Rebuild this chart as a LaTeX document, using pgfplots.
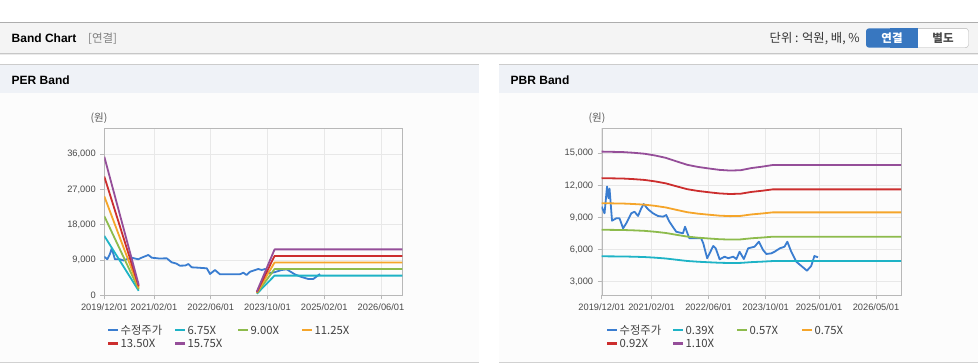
\documentclass[border=0pt]{standalone}
\usepackage{pgfplots}
\pgfplotsset{compat=1.18}
\usepackage{fontspec}
\setmainfont{Liberation Sans}
\newfontfamily\kr{Noto Sans CJK KR}
\definecolor{cPrice}{HTML}{3A7DD0}
\definecolor{cA}{HTML}{1EB3C6}
\definecolor{cB}{HTML}{8DBB4C}
\definecolor{cC}{HTML}{F5A52A}
\definecolor{cD}{HTML}{CC2E2E}
\definecolor{cE}{HTML}{954E99}
\definecolor{gridc}{HTML}{E8E8E8}
\definecolor{axc}{HTML}{B8B8B8}
\definecolor{tickc}{HTML}{4A4A4A}
\definecolor{hdr}{HTML}{F4F4F4}
\definecolor{phdr}{HTML}{EFF2F7}
\definecolor{btn}{HTML}{3877C0}

\pgfplotsset{band/.style={
  scale only axis, anchor=south west,
  xmin=0, xmax=84,
  axis line style={axc},
  grid=major, major grid style={gridc, line width=0.8pt},
  tick align=outside, major tick length=4pt, tick style={axc, line width=0.8pt},
  xtick pos=left, ytick pos=left,
  scaled y ticks=false,
  ticklabel style={font=\fontsize{9.3}{10}\selectfont, text=tickc},
  xticklabel style={yshift=-1pt},
  yticklabel style={xshift=-1pt},
  every axis plot/.append style={line width=1.8pt, line join=round, no markers},
  unbounded coords=jump,
  /pgf/number format/1000 sep={,},
  /pgf/number format/assume math mode=true,
}}

\begin{document}
\begin{tikzpicture}
\useasboundingbox (0,0) rectangle (978pt,-364pt);
\begin{scope}[x=1pt,y=-1pt]
\fill[white] (0,0) rectangle (978,364);
% top header bar
\fill[hdr] (0,22.5) rectangle (978,53);
\fill[black!8] (0,53) rectangle (978,55);
\draw[black!32,line width=1pt] (0,22.5) -- (978,22.5);
\draw[black!22,line width=1pt] (0,53) -- (978,53);
\node[anchor=west,inner sep=0,font=\bfseries\fontsize{12}{14}\selectfont] at (11.5,38.3) {Band Chart};
\node[anchor=west,inner sep=0,text=black!50,font=\kr\fontsize{11.5}{14}\selectfont] at (88,38.3) {[연결]};
\node[anchor=east,inner sep=0,text=black!80,font=\kr\fontsize{12.3}{14}\selectfont] at (860,38.3) {단위 : 억원, 배, \%};
\draw[black!30,fill=white,rounded corners=3pt] (900,28.3) rectangle (968.5,47.7);
\fill[btn,rounded corners=3pt] (866,28.3) rectangle (905,47.7);
\fill[btn] (890,28.3) rectangle (917.7,47.7);
\node[inner sep=0,text=white,font=\kr\bfseries\fontsize{11.5}{14}\selectfont] at (892,38.3) {연결};
\node[inner sep=0,text=black!70,font=\kr\bfseries\fontsize{11.5}{14}\selectfont] at (943,38.3) {별도};
% panels
\foreach \xa/\xb/\tt in {0/479/PER Band, 499/978/PBR Band}{
  \fill[phdr] (\xa,64) rectangle (\xb,92.7);
  \draw[black!20,line width=1pt] (\xa,64) -- (\xb,64);
  \fill[black!1] (\xa,92.7) rectangle (\xb,361.5);
  \draw[black!18,line width=1.5pt] (\xa,362.5) -- (\xb,362.5);
  \node[anchor=west,inner sep=0,font=\bfseries\fontsize{12}{14}\selectfont] at (\xa+11.5,80.5) {\tt};
}
\node[inner sep=0,text=black!65,font=\kr\fontsize{10.5}{12}\selectfont] at (99,118) {(원)};
\node[inner sep=0,text=black!65,font=\kr\fontsize{10.5}{12}\selectfont] at (597,118) {(원)};
% legends
\foreach \lx/\ly/\lc/\lt in {108/330/cPrice/수정주가, 175/330/cA/6.75X, 238/330/cB/9.00X, 302/330/cC/11.25X, 108/343.5/cD/13.50X, 175/343.5/cE/15.75X,
  607/330/cPrice/수정주가, 673/330/cA/0.39X, 737/330/cB/0.57X, 802/330/cC/0.75X, 607/343.5/cD/0.92X, 673/343.5/cE/1.10X}{
  \draw[\lc,line width=2.6pt] (\lx,\ly) -- (\lx+10,\ly);
  \node[anchor=west,inner sep=0,text=black!75,font=\kr\fontsize{11.3}{13}\selectfont] at (\lx+12.5,\ly) {\lt};
}
\end{scope}

% ---------------- PER Band ----------------
\begin{axis}[band, at={(104.3pt,-295.3pt)}, width=298pt, height=167pt,
  ymin=0, ymax=42640,
  ytick={0,9000,18000,27000,36000},
  xtick={0,14,30,46,62,78},
  xticklabels={2019/12/01,2021/02/01,2022/06/01,2023/10/01,2025/02/01,2026/06/01}]
\addplot[cPrice] coordinates {(0,9850) (0.85,9190) (1.6,10600) (2.1,12000) (3.0,9190) (4.4,9190) (5.4,8900) (6.6,9300) (7.7,9600) (9.6,9190) (10.5,9600) (12.4,10290) (13.4,9600) (15.5,9400) (17.6,9440) (19.0,8420) (20.3,8100) (21.3,7560) (22.8,7600) (23.7,8000) (24.6,7150) (26.5,7050) (28.9,6890) (29.8,5440) (31.2,6460) (32.6,5360) (35.5,5360) (38.2,5360) (39.2,5770) (40.1,5180) (41.1,6030) (43.4,6720) (44.4,6460) (45.3,6720) (46.7,5620) (48,5900) (50,6460) (51.4,6640) (53.7,5360) (55.5,4700) (57.5,4160) (58.9,4160) (60.8,5440)};
\addplot[cA] coordinates {(0,15170) (9.7,1150) (26,nan) (43,405) (48,5030) (84,5030)};
\addplot[cB] coordinates {(0,20220) (9.7,1530) (26,nan) (43,540) (48,6705) (84,6705)};
\addplot[cC] coordinates {(0,25280) (9.7,1910) (26,nan) (43,675) (48,8380) (84,8380)};
\addplot[cD] coordinates {(0,30330) (9.7,2300) (26,nan) (43,810) (48,10060) (84,10060)};
\addplot[cE] coordinates {(0,35390) (9.7,2680) (26,nan) (43,945) (48,11730) (84,11730)};
\end{axis}

% ---------------- PBR Band ----------------
\begin{axis}[band, at={(601.7pt,-295pt)}, width=299.3pt, height=166.7pt,
  ymin=1757, ymax=17336,
  ytick={3000,6000,9000,12000,15000},
  xtick={0,14,30,46,61,77},
  xticklabels={2019/12/01,2021/02/01,2022/06/01,2023/10/01,2025/01/01,2026/05/01}]
\addplot[cPrice] coordinates {(0,10010) (0.8,9390) (1.5,11900) (1.9,10800) (2.2,11700) (2.9,8700) (4.1,8925) (5.0,8925) (6.0,7990) (6.9,8460) (8.3,9390) (9.2,9540) (10.2,9140) (11.1,9860) (11.8,10260) (13.0,9770) (14.4,9390) (15.8,9140) (17.2,9080) (18.1,9230) (19.0,8610) (20.9,7670) (22.8,7520) (23.4,8140) (24.0,7580) (24.6,7060) (27.9,7060) (28.5,6590) (29.6,5190) (31.3,6340) (32.0,6120) (33.1,5090) (34.5,5340) (35.5,5190) (36.9,5340) (37.8,5120) (38.7,5800) (39.9,5120) (41.1,6120) (42.9,6270) (44.1,6740) (45.3,5960) (46.2,5590) (47.6,5650) (48.5,5800) (50.0,6120) (51.3,6270) (52.1,6740) (53.2,5800) (54.6,4870) (56.5,4340) (57.6,4030) (58.8,4470) (59.7,5400) (60.7,5280)};
\addplot[cA] coordinates {(0,5374) (3,5366) (6,5359) (9,5335) (12,5304) (15,5246) (18,5168) (21,5051) (24,4937) (27,4867) (30,4817) (33,4770) (36,4746) (39,4758) (42,4828) (45,4875) (48,4930) (84,4930)};
\addplot[cB] coordinates {(0,7855) (3,7843) (6,7832) (9,7798) (12,7752) (15,7667) (18,7553) (21,7382) (24,7216) (27,7114) (30,7040) (33,6971) (36,6937) (39,6954) (42,7057) (45,7125) (48,7205) (84,7205)};
\addplot[cC] coordinates {(0,10335) (3,10320) (6,10305) (9,10260) (12,10200) (15,10088) (18,9938) (21,9713) (24,9495) (27,9360) (30,9263) (33,9173) (36,9128) (39,9150) (42,9285) (45,9375) (48,9480) (84,9480)};
\addplot[cD] coordinates {(0,12678) (3,12659) (6,12641) (9,12586) (12,12512) (15,12374) (18,12190) (21,11914) (24,11647) (27,11482) (30,11362) (33,11252) (36,11196) (39,11224) (42,11390) (45,11500) (48,11629) (84,11629)};
\addplot[cE] coordinates {(0,15158) (3,15136) (6,15114) (9,15048) (12,14960) (15,14795) (18,14575) (21,14245) (24,13926) (27,13728) (30,13585) (33,13453) (36,13387) (39,13420) (42,13618) (45,13750) (48,13904) (84,13904)};
\end{axis}
\end{tikzpicture}
\end{document}
